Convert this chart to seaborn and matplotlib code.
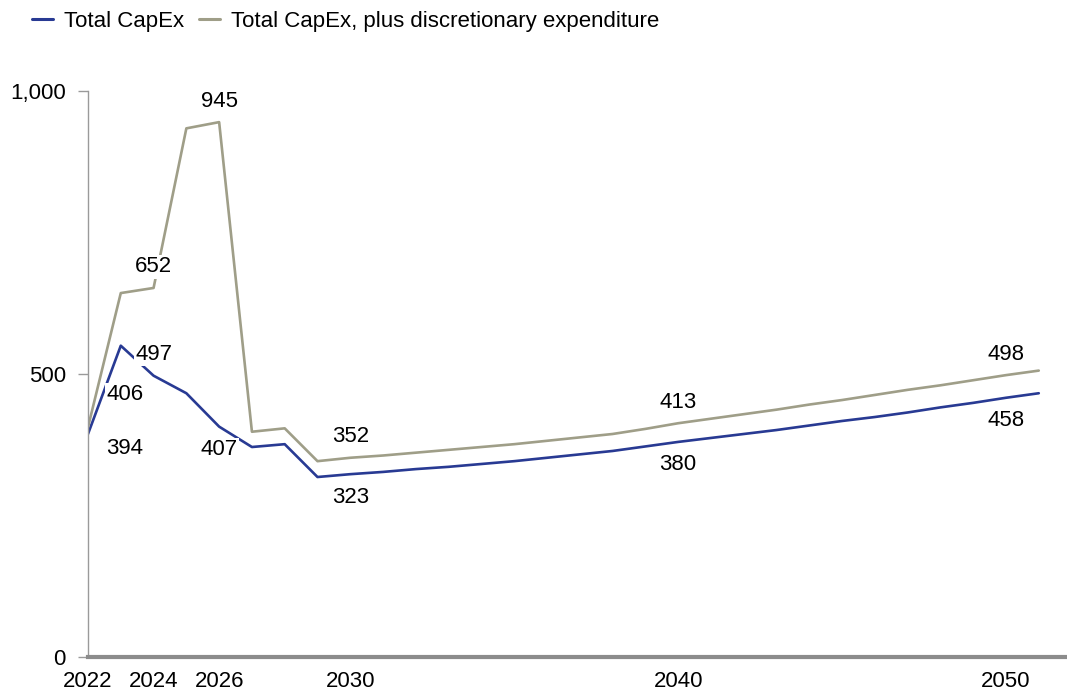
import matplotlib
matplotlib.use("Agg")
import matplotlib.pyplot as plt
import seaborn as sns
import pandas as pd

years = list(range(2022, 2052))
total_capex = [394, 550, 497, 466, 407, 371, 376, 318, 323, 327, 332, 336, 341, 346, 352,
               358, 364, 372, 380, 387, 394, 401, 409, 417, 424, 432, 441, 449, 458, 466]
total_plus_disc = [406, 643, 652, 934, 945, 398, 404, 346, 352, 356, 361, 366, 371, 376, 382,
                   388, 394, 403, 413, 421, 429, 437, 446, 454, 463, 472, 480, 489, 498, 506]
series_names = ["Total CapEx", "Total CapEx, plus discretionary expenditure"]
tick_years = [2022, 2024, 2026, 2030, 2040, 2050]
y_ticks = [0, 500, 1000]
y_tick_labels = ["0", "500", "1,000"]

# labelled points per series and placement relative to the line
label_blue_years = [2022, 2024, 2026, 2030, 2040, 2050]
label_blue_place = ["below", "above", "below", "below", "below", "below"]
label_gray_years = [2022, 2024, 2026, 2030, 2040, 2050]
label_gray_place = ["above", "above", "above", "above", "above", "above"]

colors = ["#283a93", "#9f9e88"]
FS = 16

df = pd.DataFrame({
    "year": years * 2,
    "value": total_capex + total_plus_disc,
    "series": [series_names[0]] * len(years) + [series_names[1]] * len(years),
})

sns.set_style("white")
plt.rcParams["font.family"] = ["Liberation Sans", "DejaVu Sans"]
plt.rcParams["text.color"] = "black"

fig = plt.figure(figsize=(10.67, 6.94), dpi=100)
ax = fig.add_axes([88 / 1067, 1 - 657 / 694, (1065 - 88) / 1067, (657 - 91) / 694])

sns.lineplot(data=df, x="year", y="value", hue="series", palette=colors,
             linewidth=1.9, ax=ax, legend=False)

ax.set_xlim(2022, 2051.8)
ax.set_ylim(0, 1000)
ax.set_xticks(tick_years)
ax.set_xticklabels([str(y) for y in tick_years], fontsize=FS)
ax.set_yticks(y_ticks)
ax.set_yticklabels(y_tick_labels, fontsize=FS)
ax.set_xlabel("")
ax.set_ylabel("")

for s in ["top", "right"]:
    ax.spines[s].set_visible(False)
ax.spines["left"].set_color("#9a9a9a")
ax.spines["left"].set_linewidth(1.0)
ax.spines["bottom"].set_color("#8c8c8c")
ax.spines["bottom"].set_linewidth(3.0)
ax.spines["bottom"].set_zorder(5)
ax.tick_params(axis="y", length=7, width=1, color="#9a9a9a", labelcolor="black",
               pad=9, direction="out", left=True)
ax.tick_params(axis="x", length=0, pad=10, labelcolor="black")


def put_labels(vals, lyears, places):
    for yr, pl in zip(lyears, places):
        v = vals[years.index(yr)]
        dx = 37 if yr == years[0] else 0
        if yr == years[0]:
            dy = 33 if pl == "above" else -15
        else:
            dy = 21 if pl == "above" else -23
        ax.annotate(str(v), xy=(yr, v), xytext=(dx, dy), textcoords="offset pixels",
                    ha="center", va="center", fontsize=FS, color="black", zorder=6,
                    bbox=dict(boxstyle="square,pad=0.05", fc="white", ec="none"))


put_labels(total_capex, label_blue_years, label_blue_place)
put_labels(total_plus_disc, label_gray_years, label_gray_place)

handles = [plt.Line2D([], [], color=c, linewidth=2.2) for c in colors]
fig.legend(handles, series_names, loc="upper left", bbox_to_anchor=(0.011, 1.013),
           ncol=2, frameon=False, fontsize=FS, handlelength=0.95, handletextpad=0.5,
           columnspacing=0.65, labelcolor="black")

fig.savefig("out.png", dpi=100)
